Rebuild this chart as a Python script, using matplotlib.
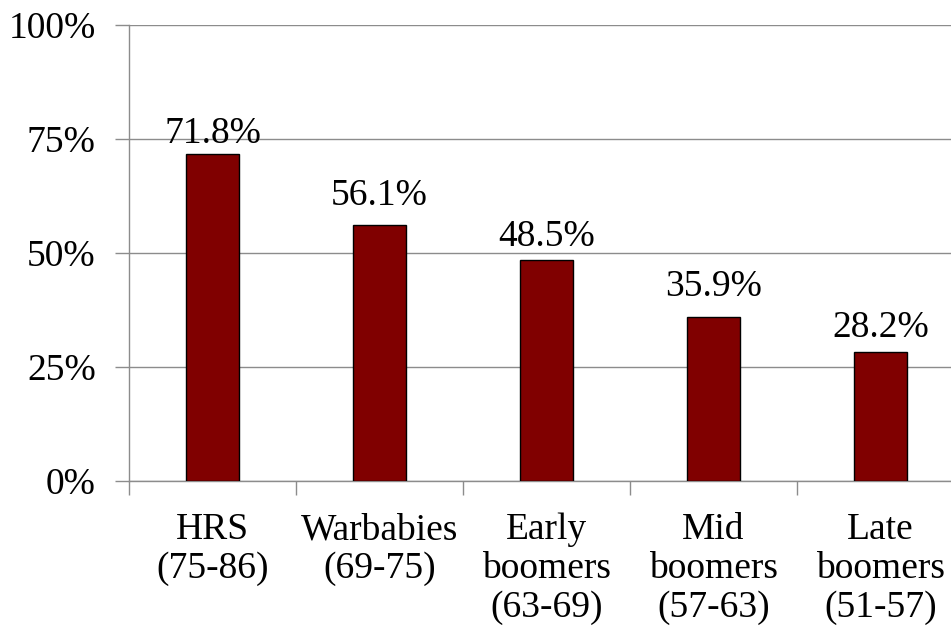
import matplotlib.pyplot as plt
import numpy as np
from matplotlib.ticker import FixedLocator

plt.rcParams['font.family'] = ['Liberation Serif', 'DejaVu Serif']

groups = ['HRS\n(75-86)', 'Warbabies\n(69-75)', 'Early\nboomers\n(63-69)',
          'Mid\nboomers\n(57-63)', 'Late\nboomers\n(51-57)']
shares = [71.8, 56.1, 48.5, 35.9, 28.2]
yticks = [0, 25, 50, 75, 100]

# lift of each value label above its bar, in points
label_lift = [2.2, 8.6, 4.3, 9.4, 5.0]

fig = plt.figure(figsize=(9.51, 6.29), dpi=100)
ax = fig.add_axes([129 / 951, 148 / 629, 835 / 951, 456 / 629])

x = np.arange(len(groups))
ax.bar(x, shares, width=0.32, color='#800000', edgecolor='black', linewidth=1, zorder=3)

for xi, v, lift in zip(x, shares, label_lift):
    ax.annotate(f'{v:.1f}%', (xi, v), xytext=(0, lift), textcoords='offset points',
                ha='center', va='bottom', fontsize=27)

ax.set_xlim(-0.5, len(groups) - 0.5)
ax.set_ylim(0, 100)

grey = '#8c8c8c'
ax.set_yticks(yticks)
ax.set_yticklabels([f'{t}%' for t in yticks], fontsize=27)
ax.yaxis.grid(True, color=grey, linewidth=1, zorder=0)
ax.tick_params(axis='y', length=10, width=1, color=grey, pad=14)

# boundaries get the tick marks, centres get the names
ax.xaxis.set_major_locator(FixedLocator(np.arange(len(groups) + 1) - 0.5))
ax.xaxis.set_minor_locator(FixedLocator(x))
ax.tick_params(axis='x', which='major', length=10, width=1, color=grey, labelbottom=False)
ax.tick_params(axis='x', which='minor', length=0, pad=23)
ax.set_xticklabels(groups, minor=True, fontsize=27, linespacing=1.16)

for side in ['top', 'right']:
    ax.spines[side].set_visible(False)
for side in ['left', 'bottom']:
    ax.spines[side].set_color(grey)
    ax.spines[side].set_linewidth(1)

fig.savefig('out.png', dpi=100)
